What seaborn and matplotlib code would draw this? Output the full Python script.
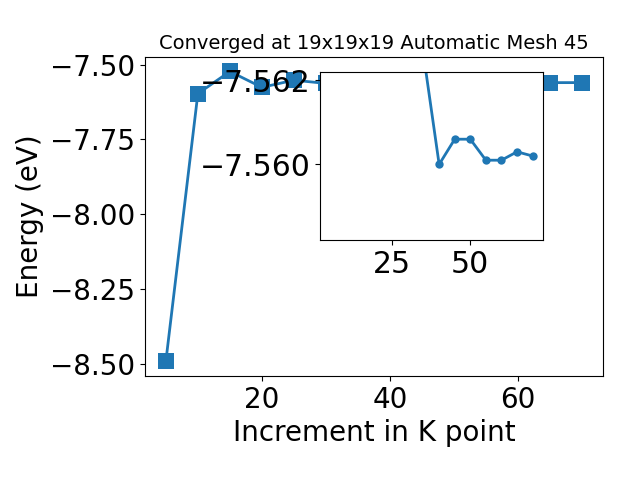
import seaborn as sns
import matplotlib.pyplot as plt
import pandas as pd

# k-point increments and total energies (eV)
kpoints = [5, 10, 15, 20, 25, 30, 35, 40, 45, 50, 55, 60, 65, 70]
energy = [-8.492, -7.597, -7.523, -7.576, -7.552, -7.5630, -7.5626,
          -7.5600, -7.5606, -7.5606, -7.5601, -7.5601, -7.5603, -7.5602]

title = 'Converged at 19x19x19 Automatic Mesh 45'
inset_start = 5  # inset shows the tail of the scan only
inset_xticks = [25, 50]
inset_yticks = [-7.562, -7.560]

df = pd.DataFrame({'kpoint': kpoints, 'energy': energy})
tail = df.iloc[inset_start:]

fig = plt.figure(figsize=(6.4, 4.8), dpi=100)
ax = fig.add_axes([0.2266, 0.2167, 0.7156, 0.6646])

# main convergence curve
sns.lineplot(data=df, x='kpoint', y='energy', marker='s', markersize=11.5,
             markeredgecolor='C0', markeredgewidth=0, linewidth=2,
             color='C0', ax=ax)
ax.set_title(title, fontsize=14)
ax.set_xlabel('Increment in K point', fontsize=20)
ax.set_ylabel('Energy (eV)', fontsize=20)
ax.tick_params(labelsize=20)

# zoomed inset
axins = fig.add_axes([0.5, 0.5, 0.348, 0.35])
sns.lineplot(data=tail, x='kpoint', y='energy', marker='o', markersize=6,
             markeredgecolor='C0', markeredgewidth=0, linewidth=2,
             color='C0', ax=axins)
axins.set_xlim(ax.get_xlim())
axins.set_ylim(-7.5582, -7.5622)
axins.set_xticks(inset_xticks)
axins.set_yticks(inset_yticks)
axins.set_xlabel('')
axins.set_ylabel('')
axins.tick_params(labelsize=21.5)

plt.savefig('out.png', dpi=100)
plt.close()
